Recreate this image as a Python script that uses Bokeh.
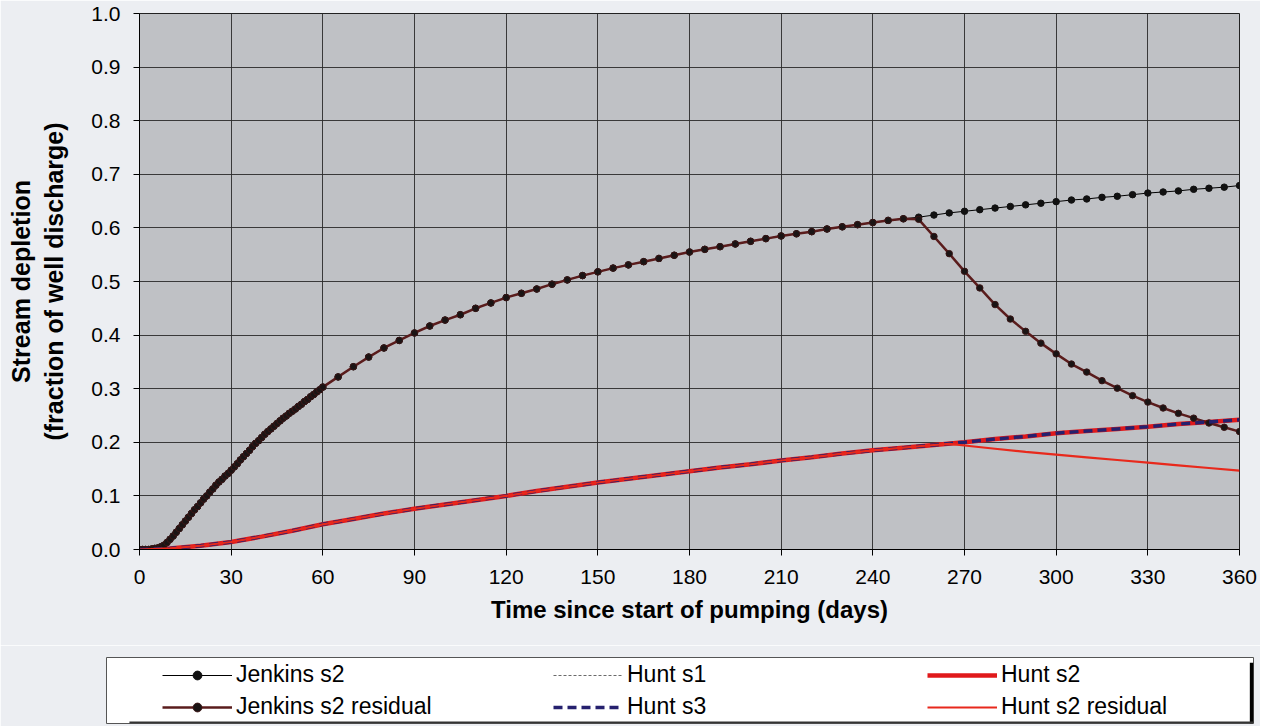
from bokeh.plotting import figure
from bokeh.layouts import column, row
from bokeh.models import Legend, LegendItem, FixedTicker, BoxAnnotation, CustomJSTickFormatter
from bokeh.embed import file_html
from bokeh.resources import INLINE

# ---------------- data ----------------
days_jenkins = list(range(0, 61)) + list(range(65, 361, 5))

jenkins_s2 = [
    0.000, 0.000, 0.000, 0.000, 0.001, 0.002, 0.003, 0.005, 0.008, 0.013,
    0.019, 0.025, 0.032, 0.039, 0.046, 0.053, 0.060, 0.067, 0.074, 0.080,
    0.087, 0.094, 0.100, 0.107, 0.113, 0.120, 0.126, 0.131, 0.137, 0.142,
    0.148, 0.154, 0.160, 0.167, 0.173, 0.179, 0.185, 0.192, 0.198, 0.203,
    0.209, 0.215, 0.220, 0.225, 0.230, 0.235, 0.240, 0.245, 0.249, 0.254,
    0.258, 0.262, 0.267, 0.271, 0.276, 0.280, 0.285, 0.289, 0.294, 0.298,
    0.303,
    # 65 .. 360 every 5 days
    0.322, 0.341, 0.359, 0.376, 0.390, 0.404, 0.417, 0.428, 0.438, 0.450,
    0.460, 0.470, 0.478, 0.486, 0.495, 0.503, 0.511, 0.518, 0.525, 0.531,
    0.537, 0.543, 0.549, 0.555, 0.560, 0.565, 0.570, 0.575, 0.580, 0.585,
    0.589, 0.593, 0.598, 0.602, 0.606, 0.610, 0.614, 0.617, 0.620, 0.624,
    0.628, 0.631, 0.634, 0.637, 0.640, 0.643, 0.646, 0.649, 0.652, 0.654,
    0.657, 0.659, 0.662, 0.665, 0.667, 0.669, 0.672, 0.674, 0.676, 0.679,
]

# Jenkins s2 residual after pumping stops (days 255 .. 360, every 5 days)
jenkins_resid_tail = [
    0.616, 0.584, 0.552, 0.519, 0.488, 0.457, 0.430, 0.407, 0.385, 0.365,
    0.346, 0.331, 0.315, 0.301, 0.287, 0.275, 0.264, 0.254, 0.245, 0.236,
    0.228, 0.220,
]
n_same = len(days_jenkins) - len(jenkins_resid_tail)
jenkins_resid = jenkins_s2[:n_same] + jenkins_resid_tail

days_hunt = list(range(0, 361, 10))
hunt = [
    0.000, 0.002, 0.007, 0.014, 0.024, 0.035, 0.047, 0.057, 0.067, 0.076,
    0.084, 0.092, 0.100, 0.109, 0.117, 0.125, 0.132, 0.139, 0.146, 0.153,
    0.159, 0.166, 0.172, 0.179, 0.185, 0.190, 0.195, 0.200, 0.206, 0.211,
    0.217, 0.221, 0.225, 0.229, 0.234, 0.238, 0.242,
]
hunt_s1 = hunt
hunt_s2 = hunt
hunt_s3 = hunt

hunt_resid_tail_days = [265, 270, 280, 290, 300, 310, 320, 330, 340, 350, 360]
hunt_resid_tail = [0.197, 0.194, 0.188, 0.182, 0.177, 0.172, 0.167, 0.162, 0.157, 0.152, 0.147]
days_hunt_resid = days_hunt[:27] + hunt_resid_tail_days
hunt_resid = hunt[:27] + hunt_resid_tail

x_ticks = list(range(0, 361, 30))
y_ticks = [round(i * 0.1, 1) for i in range(11)]

FONT = "Liberation Sans"
PAGE_BG = "#eceef2"

# ---------------- styles ----------------
STY = {
    "jenkins_line": dict(line_color="black", line_width=1),
    "jenkins_pts": dict(marker="circle", size=6.5, fill_color="#111111", line_color="#111111"),
    "hunt_s1": dict(line_color="#6a6a6a", line_width=1.2, line_dash="3 2"),
    "hunt_s2": dict(line_color="#e0191b", line_width=4.5),
    "resid_line": dict(line_color="#5a1c1c", line_width=2.5),
    "resid_pts": dict(marker="circle", size=6.5, fill_color="#1a1414", line_color="#3a1616"),
    "hunt_s3": dict(line_color="#25206e", line_width=3.5, line_dash="9 5"),
    "hunt_resid": dict(line_color="#e8291c", line_width=2.2),
}


def draw_series(fig):
    r = {}
    r["jl"] = fig.line(days_jenkins, jenkins_s2, **STY["jenkins_line"])
    r["jp"] = fig.scatter(days_jenkins, jenkins_s2, **STY["jenkins_pts"])
    r["h1"] = fig.line(days_hunt, hunt_s1, **STY["hunt_s1"])
    r["h2"] = fig.line(days_hunt, hunt_s2, **STY["hunt_s2"])
    r["rl"] = fig.line(days_jenkins, jenkins_resid, **STY["resid_line"])
    r["rp"] = fig.scatter(days_jenkins, jenkins_resid, **STY["resid_pts"])
    r["h3"] = fig.line(days_hunt, hunt_s3, **STY["hunt_s3"])
    r["hr"] = fig.line(days_hunt_resid, hunt_resid, **STY["hunt_resid"])
    return r


# ---------------- main figure ----------------
p = figure(frame_width=1100, frame_height=536,
           x_range=(0, 360), y_range=(0, 1),
           output_backend="svg", toolbar_location=None,
           min_border_left=139, min_border_right=21,
           min_border_top=13, min_border_bottom=96)

p.background_fill_color = "#bfc1c5"
p.border_fill_color = PAGE_BG
p.outline_line_color = "#222222"

for ax in (p.xaxis[0], p.yaxis[0]):
    ax.axis_line_color = "black"
    ax.major_tick_line_color = "black"
    ax.minor_tick_line_color = None
    ax.major_tick_out = 6
    ax.major_tick_in = 0
    ax.major_label_text_font = FONT
    ax.major_label_text_font_size = "21px"
    ax.major_label_text_color = "black"
    ax.axis_label_text_font = FONT
    ax.axis_label_text_font_style = "bold"
    ax.axis_label_text_color = "black"

p.xaxis.axis_label_text_font_size = "24px"
p.yaxis.axis_label_text_font_size = "25px"
p.xaxis.ticker = FixedTicker(ticks=x_ticks)
p.yaxis.ticker = FixedTicker(ticks=y_ticks)
p.xaxis.major_label_standoff = 14
p.yaxis.major_label_standoff = 13
p.xaxis.axis_label = "Time since start of pumping (days)"
p.xaxis.axis_label_standoff = 9
p.yaxis.axis_label = "Stream depletion\n(fraction of well discharge)"
p.yaxis.axis_label_standoff = 20
p.yaxis.formatter = CustomJSTickFormatter(code="return tick.toFixed(1);")

p.xgrid.ticker = FixedTicker(ticks=x_ticks)
p.ygrid.ticker = FixedTicker(ticks=y_ticks)
p.grid.grid_line_color = "#2a2a2a"
p.grid.grid_line_width = 1
p.grid.grid_line_alpha = 0.9

draw_series(p)

# ---------------- legend panel ----------------
# same series drawn here, but the view is placed away from the data so only
# the legend entries show
q = figure(frame_width=1147, frame_height=66,
           x_range=(0, 1), y_range=(-3, -2),
           x_axis_type=None, y_axis_type=None,
           output_backend="svg", toolbar_location=None,
           min_border_left=106, min_border_right=7,
           min_border_top=12, min_border_bottom=3)
q.background_fill_color = "white"
q.border_fill_color = PAGE_BG
q.outline_line_color = "#555555"
q.outline_line_width = 1

q.add_layout(BoxAnnotation(left=0.9968, right=1.0, top=-2.08, bottom=-3.0,
                           fill_color="black", fill_alpha=1.0, line_color=None))
q.add_layout(BoxAnnotation(left=0.02, right=1.0, top=-2.97, bottom=-3.0,
                           fill_color="#333333", fill_alpha=1.0, line_color=None))

r = draw_series(q)


def make_legend(items, x):
    lg = Legend(items=items, location=(x, 3), orientation="vertical",
                padding=0, margin=0, spacing=5,
                glyph_width=70, glyph_height=22, label_height=22,
                label_standoff=4,
                label_text_font=FONT, label_text_font_size="23px",
                label_text_color="black",
                border_line_color=None, background_fill_alpha=0.0)
    q.add_layout(lg)


make_legend([LegendItem(label="Jenkins s2", renderers=[r["jl"], r["jp"]]),
             LegendItem(label="Jenkins s2 residual", renderers=[r["rl"], r["rp"]])], 56)
make_legend([LegendItem(label="Hunt s1", renderers=[r["h1"]]),
             LegendItem(label="Hunt s3", renderers=[r["h3"]])], 447)
make_legend([LegendItem(label="Hunt s2", renderers=[r["h2"]]),
             LegendItem(label="Hunt s2 residual", renderers=[r["hr"]])], 821)

layout = column(p, row(q), spacing=0)
open("out.html", "w").write(file_html(layout, INLINE))
